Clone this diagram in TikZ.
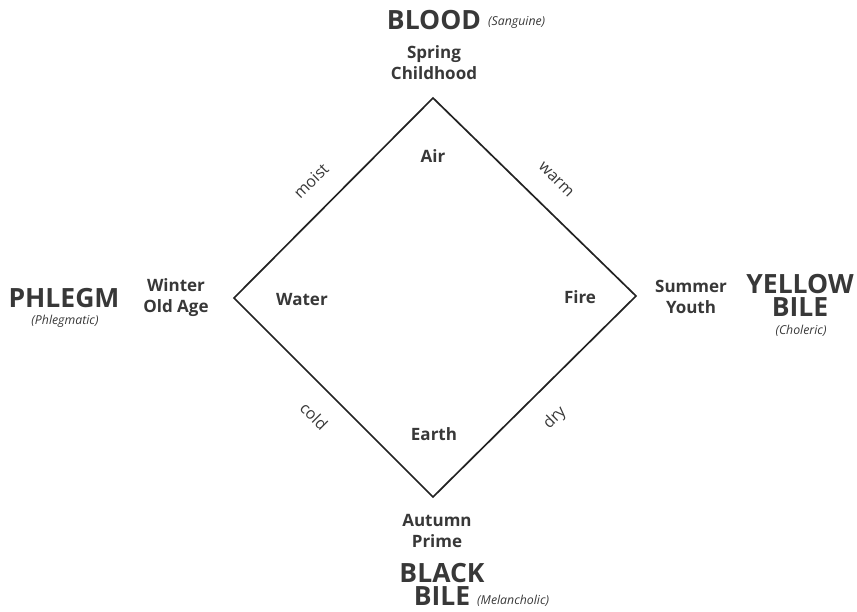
\documentclass[tikz,border=0pt]{standalone}
\usepackage{fontspec}
\setmainfont{Open Sans}
\definecolor{txt}{HTML}{383838}
\definecolor{ln}{HTML}{222222}
\tikzset{
  big/.style={text=txt,font=\fontsize{26.5}{23}\selectfont\bfseries,inner sep=0pt,align=center},
  mid/.style={text=txt,font=\fontsize{17}{21}\selectfont\bfseries,inner sep=0pt,align=center},
  qual/.style={text=txt,font=\fontsize{16}{18}\selectfont,inner sep=0pt},
  temper/.style={text=txt,font=\fontsize{12.3}{14}\selectfont\itshape,inner sep=0pt},
  edge/.style={draw=ln,line width=1.7pt,line join=miter}
}
\begin{document}
\begin{tikzpicture}[x=1pt,y=-1pt]
\useasboundingbox (0,0) rectangle (857,612);
\coordinate (T) at (433,98);
\coordinate (R) at (636,296);
\coordinate (B) at (433,497);
\coordinate (L) at (234,298);
\draw[edge] (T) -- (R) -- (B) -- (L) -- cycle;

\node[big] (blood) at (434,20) {BLOOD};
\node[temper,anchor=west] (sang) at (488,22) {(Sanguine)};
\node[mid] (spring) at (434,63) {Spring\\Childhood};

\node[mid] (air) at (433,156) {Air};
\node[mid] (water) at (302,300) {Water};
\node[mid] (fire) at (580,297) {Fire};
\node[mid] (earth) at (434,434) {Earth};

\node[qual,rotate=45] (moist) at (311,181) {moist};
\node[qual,rotate=-45] (warm) at (556,180) {warm};
\node[qual,rotate=-45] (cold) at (314,416) {cold};
\node[qual,rotate=45] (dry) at (555,418) {dry};

\node[mid] (winter) at (176,298) {Winter\\Old Age};
\node[big] (phlegm) at (64,298) {PHLEGM};
\node[temper] (phlegmatic) at (65,321) {(Phlegmatic)};

\node[mid] (summer) at (691,297) {Summer\\Youth};
\node[big] (yellow) at (800,295) {YELLOW\\BILE};
\node[temper] (choleric) at (801,331) {(Choleric)};

\node[mid] (autumn) at (437,531) {Autumn\\Prime};
\node[big] (black) at (442,584) {BLACK\\BILE};
\node[temper,anchor=west] (mel) at (477,601) {(Melancholic)};
\end{tikzpicture}
\end{document}
